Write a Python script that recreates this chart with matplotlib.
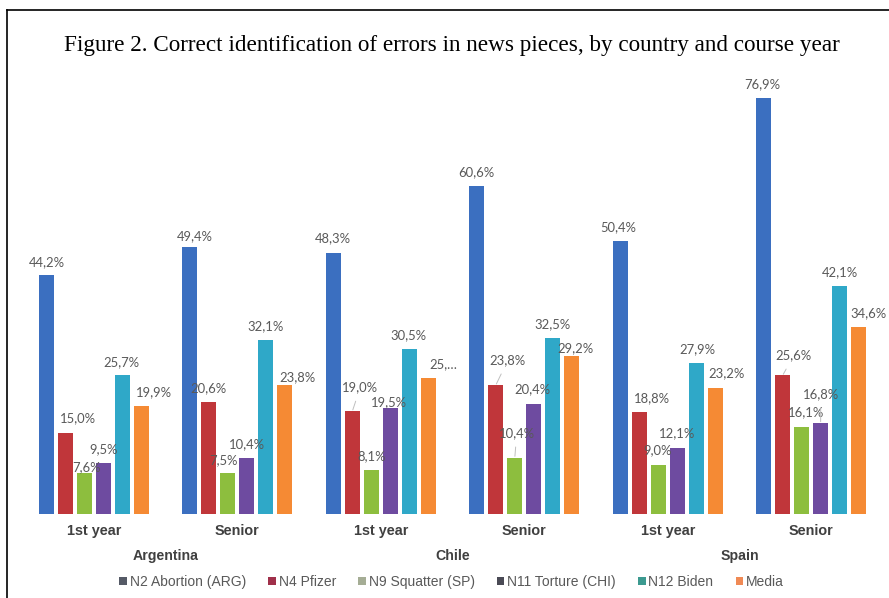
import matplotlib
matplotlib.use("Agg")
import matplotlib.pyplot as plt
from matplotlib.patches import Patch
import numpy as np

# ---- data ----
countries = ["Argentina", "Chile", "Spain"]
years = ["1st year", "Senior", "1st year", "Senior", "1st year", "Senior"]
series_names = ["N2 Abortion (ARG)", "N4 Pfizer", "N9 Squatter (SP)",
                "N11 Torture (CHI)", "N12 Biden", "Media"]
n2_abortion = [44.2, 49.4, 48.3, 60.6, 50.4, 76.9]
n4_pfizer = [15.0, 20.6, 19.0, 23.8, 18.8, 25.6]
n9_squatter = [7.6, 7.5, 8.1, 10.4, 9.0, 16.1]
n11_torture = [9.5, 10.4, 19.5, 20.4, 12.1, 16.8]
n12_biden = [25.7, 32.1, 30.5, 32.5, 27.9, 42.1]
media = [19.9, 23.8, 25.1, 29.2, 23.2, 34.6]
series_values = [n2_abortion, n4_pfizer, n9_squatter, n11_torture, n12_biden, media]

# ---- styles ----
bar_colors = ["#3b6fc0", "#c0363a", "#8dbe3e", "#6e4ba0", "#2fa8c8", "#f58a34"]
legend_colors = ["#555a66", "#a0304a", "#a5ad95", "#4a4a55", "#3c9a90", "#f08a55"]
# label offsets in pixels (dx, dy) relative to bar top-centre; leader flag
label_offsets = [
    [(0, 13, 0), (5, 10, 0), (0, 14, 0), (0, 14, 0), (-2, 14, 0), (-1, 14, 0)],
    [(12, 15, 0), (0, 14, 0), (8, 24, 1), (12, 25, 1), (13, 14, 0), (11, 20, 1)],
    [(2, 6, 0), (-4, 13, 0), (0, 14, 0), (2, 25, 1), (-1, 15, 0), (4, 15, 0)],
    [(0, 13, 0), (0, 14, 0), (-1, 6, 0), (-1, 14, 0), (0, 15, 0), (0, 29, 1)],
    [(-1, 13, 0), (0, 14, 0), (-1, 14, 0), (0, 14, 0), (1, 14, 0), (0, 14, 0)],
    [(12, 14, 0), (13, 8, 0), (15, 14, 0), (4, 8, 0), (11, 15, 0), (10, 14, 0)],
]

sans = ["Liberation Sans", "DejaVu Sans"]
label_font = ["Lato", "DejaVu Sans"]

fig = plt.figure(figsize=(8.89, 5.98), dpi=100)
fig.patch.set_facecolor("white")
ax = fig.add_axes([0.0251, 0.1405, 0.968, 0.724])

x = np.arange(len(years))
bw = 0.105
step = 0.1325
for i, vals in enumerate(series_values):
    pos = x + (i - 2.5) * step
    ax.bar(pos, vals, width=bw, color=bar_colors[i], zorder=2)
    for j, (p, v) in enumerate(zip(pos, vals)):
        dx, dy, lead = label_offsets[i][j]
        txt = ("%.1f%%" % v).replace(".", ",")
        if i == 5 and j == 2:
            txt = "25,\u2026"
        kw = {}
        if lead:
            kw["arrowprops"] = dict(arrowstyle="-", color="#bfbfbf", lw=0.7,
                                    shrinkA=4, shrinkB=1)
        ax.annotate(txt, xy=(p, v), xytext=(dx, dy), textcoords="offset pixels",
                    ha="center", va="center", fontsize=9.4, color="#595959",
                    family=label_font, zorder=3, **kw)

ax.set_xlim(-0.5, 5.5)
ax.set_ylim(0, 80)
ax.set_xticks([])
ax.set_yticks([])
for s in ax.spines.values():
    s.set_visible(False)

# category labels
for j, yl in enumerate(years):
    ax.text(x[j], -3.1, yl, ha="center", va="center", fontsize=10.4,
            fontweight="bold", color="#404040", family=sans)
for k, c in enumerate(countries):
    ax.text(2 * k + 0.5, -7.7, c, ha="center", va="center", fontsize=10.2,
            fontweight="bold", color="#404040", family=sans, clip_on=False)

# title
fig.text(0.508, 0.924, "Figure 2. Correct identification of errors in news pieces, by country and course year",
         ha="center", va="center", fontsize=16.7, family=["Liberation Serif", "DejaVu Serif"],
         color="#000000")

# legend
handles = [Patch(facecolor=c, edgecolor="none") for c in legend_colors]
leg = fig.legend(handles, series_names, loc="center", bbox_to_anchor=(0.508, 0.027),
                 ncol=6, frameon=False, handlelength=0.55, handleheight=0.55,
                 handletextpad=0.2, columnspacing=1.6,
                 prop={"family": sans, "size": 10})
for t in leg.get_texts():
    t.set_color("#595959")

# border (left and top lines)
fig.add_artist(plt.Line2D([7 / 889, 7 / 889], [0, 1 - 10 / 598], color="black", lw=1.2,
                          transform=fig.transFigure))
fig.add_artist(plt.Line2D([7 / 889, 1], [1 - 10 / 598, 1 - 10 / 598], color="black", lw=1.2,
                          transform=fig.transFigure))

fig.savefig("out.png", dpi=100, facecolor="white")
